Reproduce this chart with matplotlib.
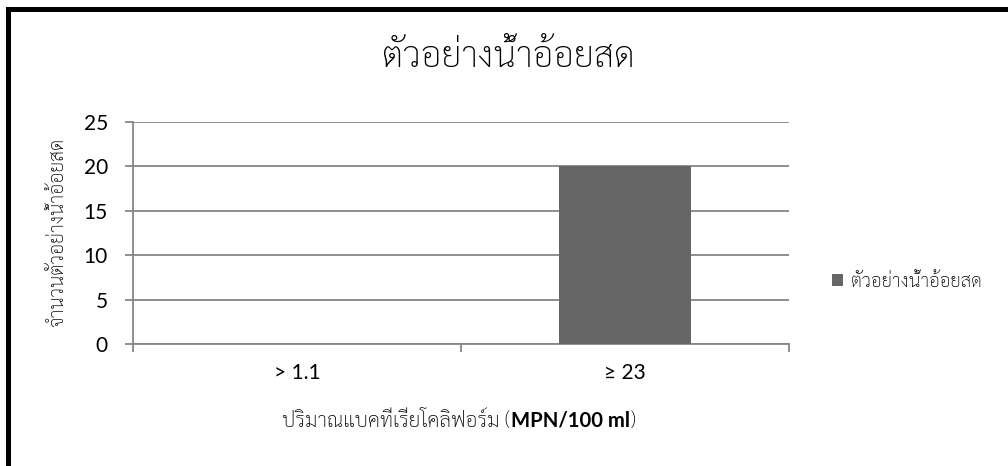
import matplotlib
matplotlib.use("Agg")
import matplotlib.pyplot as plt
from matplotlib.lines import Line2D
from matplotlib.offsetbox import TextArea, HPacker, AnnotationBbox

# data
categories = ["> 1.1", "≥ 23"]
counts = [0, 20]
series_name = "ตัวอย่างน้ำอ้อยสด"
chart_title = "ตัวอย่างน้ำอ้อยสด"
y_title = "จำนวนตัวอย่างน้ำอ้อยสด"
x_title_thai = "ปริมาณแบคทีเรียโคลิฟอร์ม ("
x_title_unit = "MPN/100 ml"
y_ticks = [0, 5, 10, 15, 20, 25]

thai = ["Sarabun", "DejaVu Sans"]
latin = ["Lato", "DejaVu Sans"]
grid_col = "#868686"
bar_col = "#666666"

fig = plt.figure(figsize=(10.08, 4.66), dpi=100)
ax = fig.add_axes([133 / 1008, 1 - 344 / 466, 656 / 1008, 222 / 466])

x = list(range(len(categories)))
bars = ax.bar(x, counts, width=0.4, color=bar_col, label=series_name, zorder=3)

ax.set_xlim(-0.5, len(categories) - 0.5)
ax.set_ylim(0, 25)
ax.set_yticks(y_ticks)
ax.set_yticklabels([str(v) for v in y_ticks], family=latin, fontsize=15)
ax.yaxis.grid(True, color=grid_col, lw=1.3, zorder=0)
ax.set_axisbelow(True)

# ticks on category boundaries, labels at category centres
ax.set_xticks([i - 0.5 for i in range(len(categories) + 1)])
ax.set_xticklabels([])
ax.set_xticks(x, minor=True)
ax.set_xticklabels(categories, minor=True, family=latin, fontsize=15)
ax.tick_params(axis="x", which="major", direction="out", length=6, width=1.3, color=grid_col)
ax.tick_params(axis="x", which="minor", length=0, pad=14)
ax.tick_params(axis="y", direction="out", length=6, width=1.3, color=grid_col, pad=12)

for s in ["top", "right"]:
    ax.spines[s].set_visible(False)
for s in ["left", "bottom"]:
    ax.spines[s].set_color(grid_col)
    ax.spines[s].set_linewidth(1.3)

fig.text(508 / 1008, 1 - 57 / 466, chart_title, family=thai, fontsize=26, fontweight="light",
         ha="center", va="center")
fig.text(58 / 1008, 1 - 232 / 466, y_title, family=thai, fontsize=14, fontweight="light",
         rotation=90, ha="center", va="center")

parts = [
    TextArea(x_title_thai, textprops=dict(family=thai, fontsize=15, fontweight="light")),
    TextArea(x_title_unit, textprops=dict(family=latin, fontsize=14.6, fontweight="bold")),
    TextArea(")", textprops=dict(family=thai, fontsize=15, fontweight="light")),
]
box = HPacker(children=parts, align="baseline", pad=0, sep=0)
fig.add_artist(AnnotationBbox(box, (459 / 1008, 1 - 421 / 466), xycoords="figure fraction",
                              frameon=False, box_alignment=(0.5, 0.5)))

ax.legend(loc="center left", bbox_to_anchor=(832 / 1008, 1 - 282 / 466),
          bbox_transform=fig.transFigure, frameon=False, borderpad=0, borderaxespad=0,
          handlelength=0.6, handleheight=0.6, handletextpad=0.4,
          prop=dict(family=thai, size=13.5, weight="light"))

# thick black frame (top and left edges only visible)
fig.add_artist(Line2D([7.5 / 1008, 1.01], [1 - 8.5 / 466] * 2, transform=fig.transFigure,
                      color="black", lw=3.6, solid_capstyle="projecting"))
fig.add_artist(Line2D([7.5 / 1008] * 2, [-0.01, 1 - 8.5 / 466], transform=fig.transFigure,
                      color="black", lw=3.6, solid_capstyle="projecting"))

fig.savefig("out.png", dpi=100)
